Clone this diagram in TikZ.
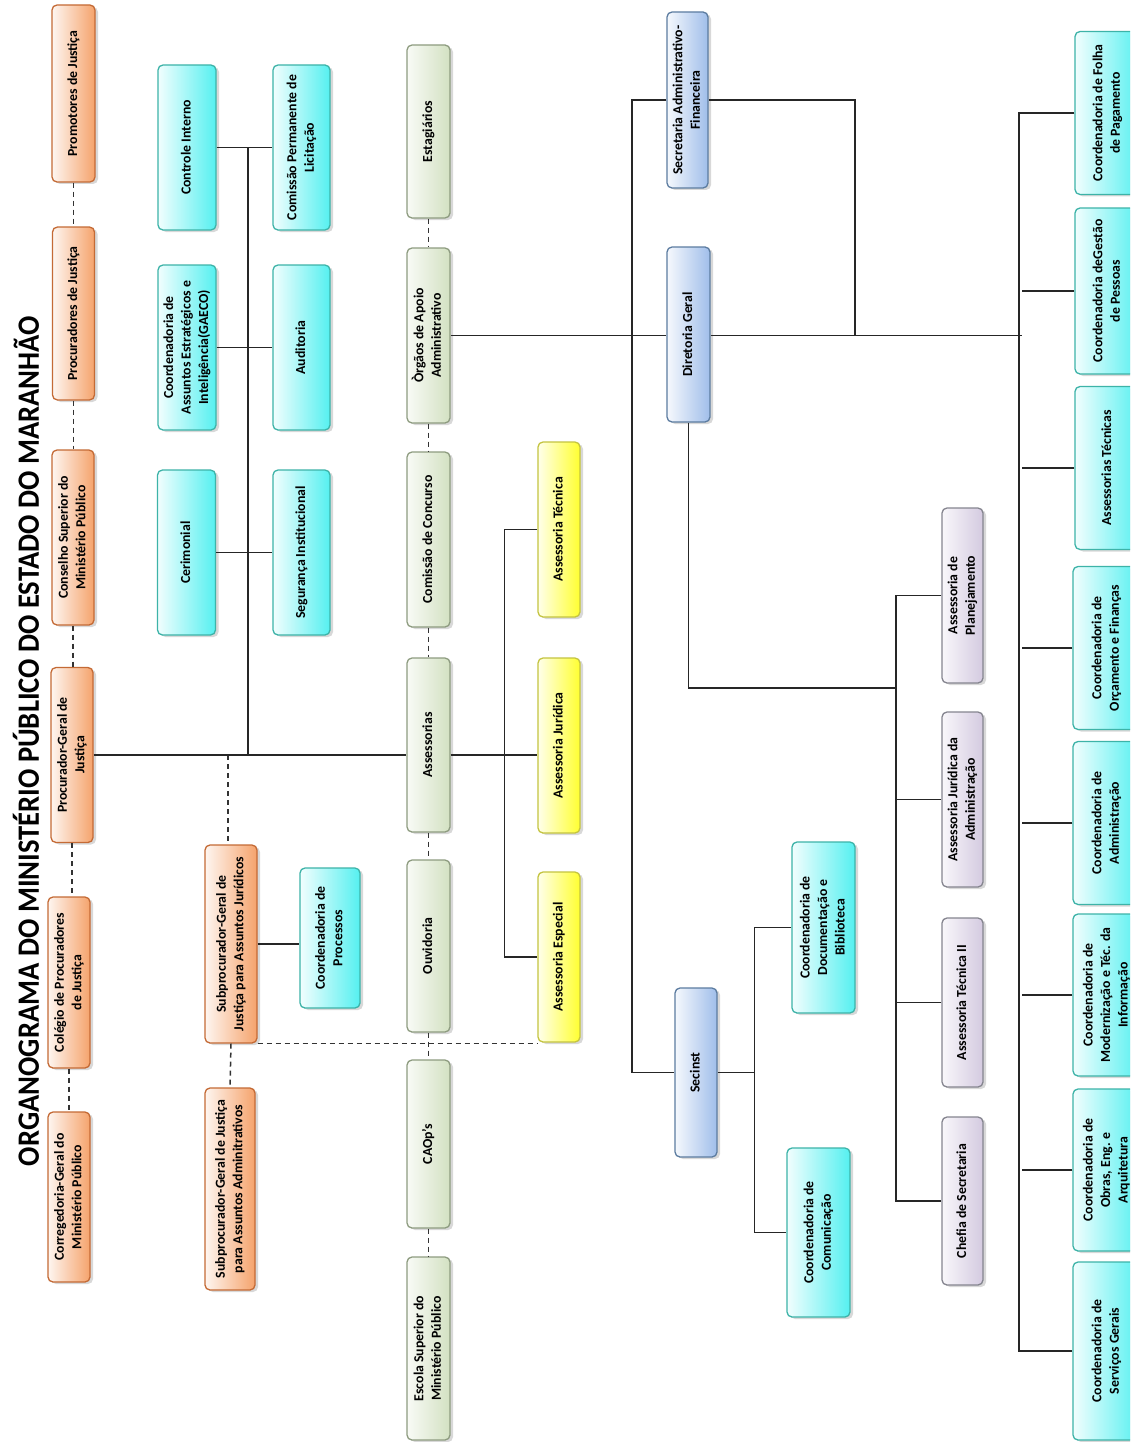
\documentclass[tikz,border=0pt]{standalone}
\usepackage{fontspec}
\usepackage{graphicx}
\setmainfont{Carlito}
\usetikzlibrary{shadows,calc}
\definecolor{obd}{HTML}{C46A35}\definecolor{ofl}{HTML}{F5A36C}
\definecolor{cbd}{HTML}{3DB3A8}\definecolor{cfl}{HTML}{55F0F0}
\definecolor{gbd}{HTML}{8E9C80}\definecolor{gfl}{HTML}{D3E1C2}
\definecolor{ybd}{HTML}{C4C440}\definecolor{yfl}{HTML}{FFFF30}
\definecolor{bbd}{HTML}{5C7CA0}\definecolor{bfl}{HTML}{A0BEEA}
\definecolor{pbd}{HTML}{85858F}\definecolor{pfl}{HTML}{D4CAE0}
\newcommand\rt[1]{\rotatebox{90}{\begin{tabular}{@{}c@{}}#1\end{tabular}}}
\tikzset{
  box/.style={rectangle, rounded corners=5pt, line width=1.3pt, inner sep=0pt,
    font=\fontsize{13.8}{17.5}\selectfont\bfseries,
    drop shadow={shadow xshift=3pt, shadow yshift=-2pt, opacity=0.25, fill=black!60}},
  obox/.style={box, draw=obd, left color=white!90!ofl, right color=ofl},
  cbox/.style={box, draw=cbd, left color=white!92!cfl, right color=cfl},
  gbox/.style={box, draw=gbd, left color=white!85!gfl, right color=gfl},
  ybox/.style={box, draw=ybd, left color=white!90!yfl, right color=yfl},
  bbox/.style={box, draw=bbd, left color=white!90!bfl, right color=bfl},
  pbox/.style={box, draw=pbd, left color=white!85!pfl, right color=pfl},
  ln/.style={line width=1.5pt, draw=black!85},
  dsh/.style={line width=1.5pt, draw=black!80, dash pattern=on 5pt off 4pt},
}
\begin{document}
\begin{tikzpicture}[x=1pt,y=1pt]
\useasboundingbox[fill=white] (0,0) rectangle (1130,-1442);
\begin{scope}
\clip (0,0) rectangle (1130,-1442);
% title
\node[rotate=90, inner sep=0pt] (title) at (26,-741) {\resizebox{850pt}{\height}{\fontsize{31}{31}\selectfont\bfseries ORGANOGRAMA DO MINISTÉRIO PÚBLICO DO ESTADO DO MARANHÃO}};
% column 1
\node[obox, minimum width=43, minimum height=177] (promo) at (73.5,-93.5) {\rt{Promotores de Justiça}};
\node[obox, minimum width=42, minimum height=173] (procs) at (73.5,-313.5) {\rt{Procuradores de Justiça}};
\node[obox, minimum width=42, minimum height=175] (consel) at (73,-537.5) {\rt{Conselho Superior do\\Ministério Público}};
\node[obox, minimum width=42, minimum height=175] (pgj) at (72,-755) {\rt{Procurador-Geral de\\Justiça}};
\node[obox, minimum width=42, minimum height=171] (coleg) at (69,-982.5) {\rt{Colégio de Procuradores\\de Justiça}};
\node[obox, minimum width=42, minimum height=170] (correg) at (69,-1197) {\rt{Corregedoria-Geral do\\Ministério Público}};
\draw[dsh] (promo.south) -- (promo.south |- procs.north);
\draw[dsh] (procs.south) -- (procs.south |- consel.north);
\draw[dsh] (consel.south) -- (consel.south |- pgj.north);
\draw[dsh] (pgj.south) -- (pgj.south |- coleg.north);
\draw[dsh] (coleg.south) -- (coleg.south |- correg.north);
% columns 2-3
\node[cbox, minimum width=58, minimum height=165] (ctrl) at (187,-147.5) {\rt{Controle Interno}};
\node[cbox, minimum width=58, minimum height=165] (gaeco) at (187,-347.5) {\rt{Coordenadoria de\\Assuntos Estratégicos e\\Inteligência(GAECO)}};
\node[cbox, minimum width=58, minimum height=165] (cerim) at (186.5,-552.5) {\rt{Cerimonial}};
\node[cbox, minimum width=57, minimum height=165] (cpl) at (301.5,-147.5) {\rt{Comissão Permanente de\\Licitação}};
\node[cbox, minimum width=57, minimum height=165] (audit) at (301.5,-347.5) {\rt{Auditoria}};
\node[cbox, minimum width=57, minimum height=165] (segur) at (301.5,-552.5) {\rt{Segurança Institucional}};
\draw[ln] (ctrl.east) -- (cpl.west);
\draw[ln] (gaeco.east) -- (audit.west);
\draw[ln] (cerim.east) -- (segur.west);
\coordinate (vtop) at (248,-147.5);
\draw[ln] (vtop) -- (vtop |- pgj.east);
% subprocuradores
\node[obox, minimum width=52, minimum height=198] (sjur) at (231,-944) {\rt{Subprocurador-Geral de\\Justiça para Assuntos Jurídicos}};
\node[obox, minimum width=50, minimum height=202] (sadm) at (230,-1189) {\rt{Subprocurador-Geral de Justiça\\para Assuntos Adminitrativos}};
\node[cbox, minimum width=60, minimum height=140] (cproc) at (330,-938) {\rt{Coordenadoria de\\Processos}};
\coordinate (sdj) at (228,-755);
\draw[dsh] (sdj) -- (sdj |- sjur.north);
\draw[dsh] (sjur.south) -- (sadm.north);
\draw[ln] (sjur.east) -- (sjur.east -| cproc.west);
% column 4
\node[gbox, minimum width=43, minimum height=173] (estag) at (428.5,-131.5) {\rt{Estagiários}};
\node[gbox, minimum width=43, minimum height=175] (orgaos) at (428.5,-335.5) {\rt{Òrgãos de Apoio\\Administrativo}};
\node[gbox, minimum width=43, minimum height=175] (comcon) at (428.5,-539.5) {\rt{Comissão de Concurso}};
\node[gbox, minimum width=43, minimum height=174] (assess) at (428.5,-745) {\rt{Assessorias}};
\node[gbox, minimum width=43, minimum height=172] (ouvid) at (428.5,-946) {\rt{Ouvidoria}};
\node[gbox, minimum width=43, minimum height=168] (caops) at (428.5,-1144) {\rt{CAOp's}};
\node[gbox, minimum width=43, minimum height=183] (escola) at (428.5,-1348.5) {\rt{Escola Superior do\\Ministério Público}};
\draw[dsh] (estag.south) -- (orgaos.north);
\draw[dsh] (orgaos.south) -- (comcon.north);
\draw[dsh] (comcon.south) -- (assess.north);
\draw[dsh] (assess.south) -- (ouvid.north);
\draw[dsh] (ouvid.south) -- (caops.north);
\draw[dsh] (caops.south) -- (escola.north);
\draw[ln] (pgj.east) -- (pgj.east -| assess.west);
% column 5
\node[ybox, minimum width=42, minimum height=175] (atec) at (559,-529.5) {\rt{Assessoria Técnica}};
\node[ybox, minimum width=42, minimum height=175] (ajur) at (559,-745.5) {\rt{Assessoria Jurídica}};
\node[ybox, minimum width=42, minimum height=170] (aesp) at (559,-957) {\rt{Assessoria Especial}};
\draw[ln] (pgj.east -| assess.east) -- (pgj.east -| ajur.west);
\draw[ln] (atec.west) -- ++(-33,0) |- (aesp.west);
\draw[dsh] (sjur.south east) -- (sjur.south east -| aesp.west);
% column 6
\node[bbox, minimum width=41, minimum height=176] (sadf) at (687.5,-100) {\rt{Secretaria Administrativo-\\Financeira}};
\node[bbox, minimum width=43, minimum height=175] (dirg) at (688.5,-334.5) {\rt{Diretoria Geral}};
\node[bbox, minimum width=42, minimum height=169] (secinst) at (696,-1072.5) {\rt{Secinst}};
\draw[ln] (orgaos.east) -- (orgaos.east -| dirg.west);
\draw[ln] (sadf.west) -- ++(-34.5,0) |- (secinst.west);
\coordinate (sj) at (855,-335.5);
\coordinate (dj) at (1022,-335.5);
\draw[ln] (sadf.east) -| (sj);
\draw[ln] (dirg.east |- sj) -- (dj);
% column 7 (purple)
\node[pbox, minimum width=41, minimum height=175] (aplan) at (962.5,-595.5) {\rt{Assessoria de\\Planejamento}};
\node[pbox, minimum width=41, minimum height=175] (ajadm) at (962.5,-799.5) {\rt{Assessoria Jurídica da\\Administração}};
\node[pbox, minimum width=41, minimum height=169] (atec2) at (962.5,-1002.5) {\rt{Assessoria Técnica II}};
\node[pbox, minimum width=41, minimum height=168] (chefia) at (962.5,-1201) {\rt{Chefia de Secretaria}};
\coordinate (pj) at (897,-688);
\draw[ln] (dirg.south) |- (pj);
\draw[ln] (aplan.west) -- ++(-45.5,0) |- (chefia.west);
\draw[ln] (ajadm.west) -- (ajadm.west -| pj);
\draw[ln] (atec2.west) -- (atec2.west -| pj);
% secinst children
\node[cbox, minimum width=63, minimum height=171] (cdoc) at (823.5,-927.5) {\rt{Coordenadoria de\\Documentação e\\Biblioteca}};
\node[cbox, minimum width=63, minimum height=169] (ccom) at (818.5,-1232.5) {\rt{Coordenadoria de\\Comunicação}};
\coordinate (sc) at (755,-1072.5);
\draw[ln] (secinst.east) -- (sc);
\draw[ln] (cdoc.west) -- ++(-37,0) |- (ccom.west);
% right column
\node[cbox, minimum width=65, minimum height=163] (cfolha) at (1107.5,-113) {\rt{Coordenadoria de Folha\\de Pagamento}};
\node[cbox, minimum width=65, minimum height=166] (cgest) at (1107.5,-291) {\rt{Coordenadoria deGestão\\de Pessoas}};
\node[cbox, minimum width=65, minimum height=163] (atecs) at (1107.5,-468) {\rt{Assessorias Técnicas}};
\node[cbox, minimum width=67, minimum height=163] (corc) at (1106.5,-648) {\rt{Coordenadoria de\\Orçamento e Finanças}};
\node[cbox, minimum width=67, minimum height=163] (cadm) at (1106.5,-823) {\rt{Coordenadoria de\\Administração}};
\node[cbox, minimum width=67, minimum height=162] (cmod) at (1106.5,-995) {\rt{Coordenadoria de\\Modernização e Téc. da\\Informação}};
\node[cbox, minimum width=67, minimum height=162] (cobras) at (1106.5,-1170) {\rt{Coordenadoria de\\Obras, Eng. e\\Arquitetura}};
\node[cbox, minimum width=67, minimum height=178] (cserv) at (1106.5,-1351) {\rt{Coordenadoria de\\Serviços Gerais}};
\draw[ln] (cfolha.west) -- ++(-55.5,0) |- (cserv.west);
\draw[ln] (cgest.west) -- (cgest.west -| dj);
\draw[ln] (atecs.west) -- (atecs.west -| dj);
\draw[ln] (corc.west) -- (corc.west -| dj);
\draw[ln] (cadm.west) -- (cadm.west -| dj);
\draw[ln] (cmod.west) -- (cmod.west -| dj);
\draw[ln] (cobras.west) -- (cobras.west -| dj);
\end{scope}
\end{tikzpicture}
\end{document}
